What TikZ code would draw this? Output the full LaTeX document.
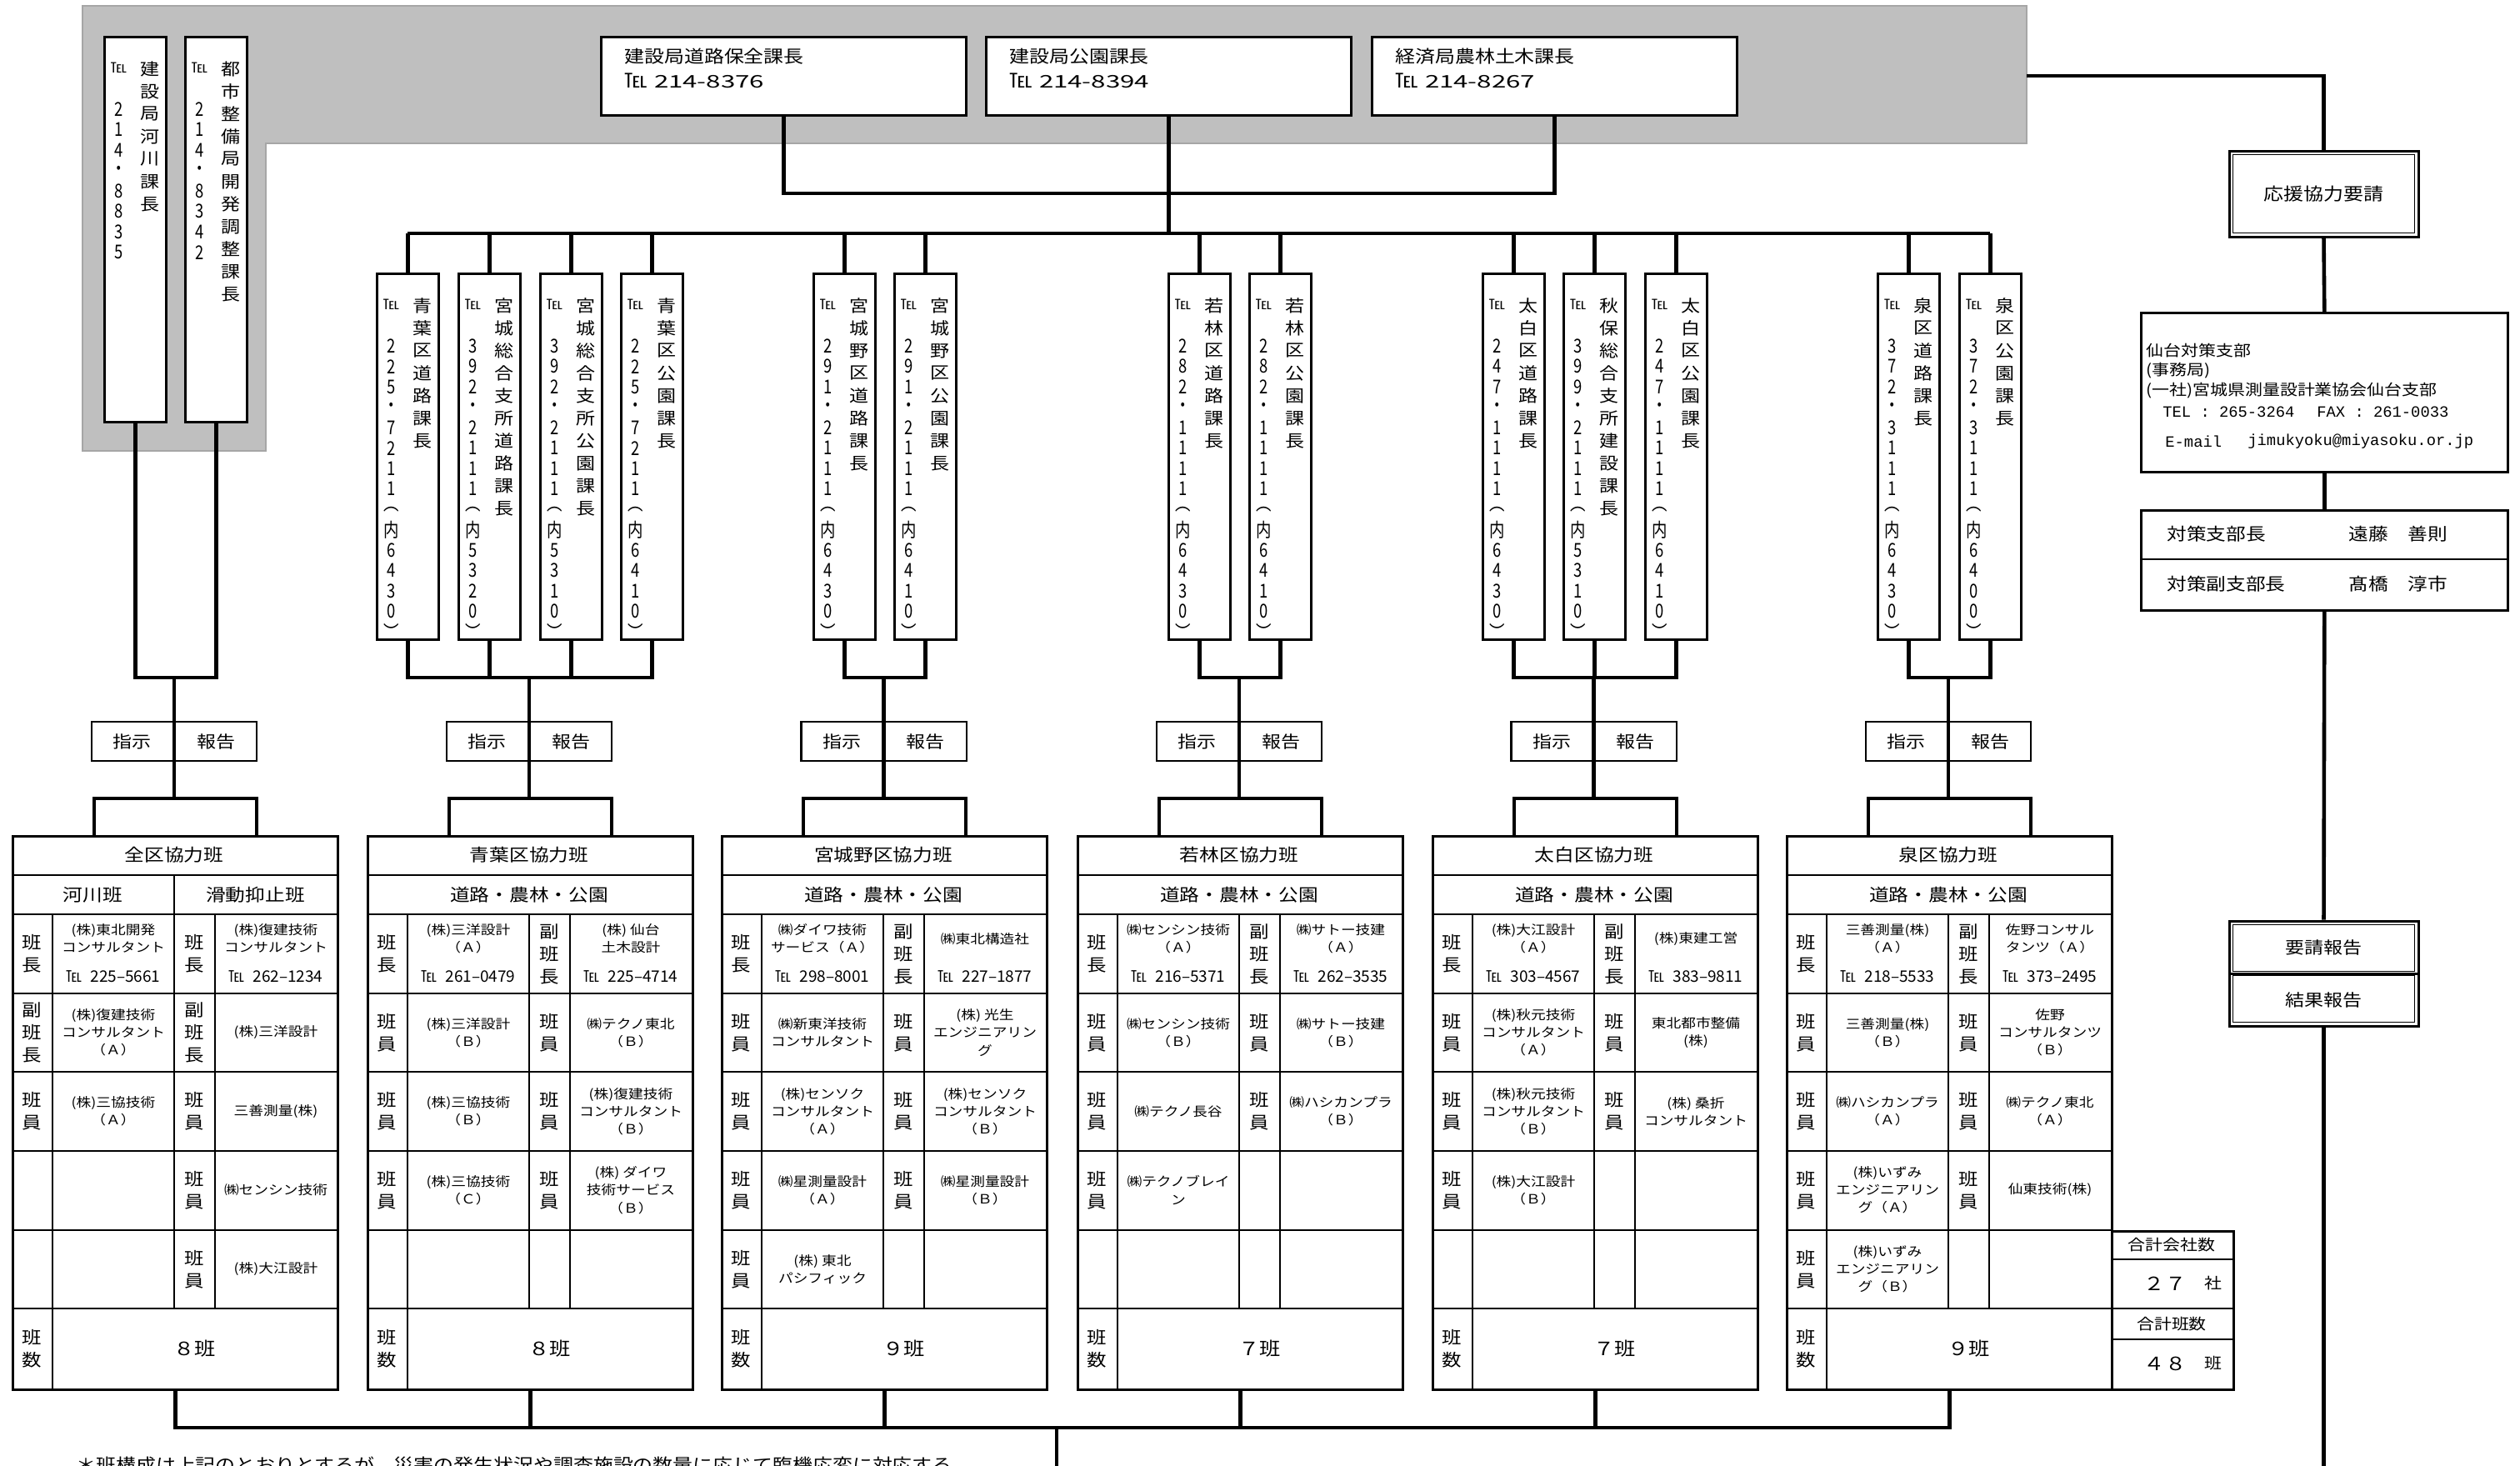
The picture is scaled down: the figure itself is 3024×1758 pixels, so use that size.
\documentclass[tikz,border=0pt]{standalone}
\usepackage{fontspec}
\setmainfont{Noto Sans CJK JP}[FakeStretch=1.15]
\newfontfamily\plainjp{Noto Sans CJK JP}
\newfontfamily\ndig{Noto Sans CJK JP}[FakeStretch=0.8]
\newfontfamily\wdig{Noto Sans CJK JP}[FakeStretch=1.5]
\newfontfamily\monof{Liberation Mono}
\usetikzlibrary{calc}

\ExplSyntaxOn
\dim_new:N \l_vs_pitch_dim
\NewDocumentCommand\vstack{mm}
  {
    \dim_set:Nn \l_vs_pitch_dim {#1}
    \vbox:n
      {
        \offinterlineskip
        \tl_map_inline:nn {#2}
          {
            \hbox_to_wd:nn {2em}
              { \hss \vbox_to_ht:nn {\l_vs_pitch_dim} { \vss \hbox:n {##1} \vss } \hss }
          }
      }
  }
\ExplSyntaxOff

\newcommand\fVname{\fontsize{10}{12}\selectfont}
\newcommand\fVtel{\fontsize{8.5}{10}\selectfont}
\newcommand\fVdig{\ndig\fontsize{11.5}{12}\selectfont}
\newcommand\fTop{\fontsize{10.4}{12}\selectfont}
\newcommand\fTopTel{\fontsize{12}{12}\selectfont}
\newcommand\fSH{\fontsize{10}{12}\selectfont}
\newcommand\fTitle{\fontsize{10.3}{12}\selectfont}
\newcommand\fLab{\fontsize{10.2}{13.5}\selectfont}
\newcommand\fCell{\fontsize{7.7}{10.6}\selectfont}
\newcommand\fTel{\plainjp\fontsize{9.5}{11}\selectfont}
\newcommand\fCnt{\fontsize{11}{12}\selectfont}
\newcommand\fInfo{\fontsize{9.1}{11}\selectfont}
\newcommand\fMono{\monof\fontsize{9.4}{11}\selectfont}
\newcommand\fTai{\fontsize{10.3}{12}\selectfont}
\newcommand\fFoot{\fontsize{10.4}{12}\selectfont}

% vertical box: name, left x, top y, height, name chars, tel digits
\newcommand\vbx[6]{%
  \node[vertbox,anchor=north west,minimum width=37pt,minimum height=#4] (#1) at (#2,#3) {};
  \node[txt,anchor=north,font=\fVname] (#1n) at ($(#1.north west)+(55.5,26)$) {\vstack{13.5pt}{#5}};
  \node[txt,font=\fVtel] (#1t) at ($(#1.north west)+(18.5,38.5)$) {℡};
  \node[txt,anchor=north,font=\fVdig] (#1d) at ($(#1.north west)+(18.5,75.5)$) {\vstack{12.25pt}{#6}};
}
% 指示/報告 box
\newcommand\sibx[2]{%
  \node[sibox,anchor=north east] (#1a) at (#2,865) {指示};
  \node[sibox,anchor=north west] (#1b) at (#2,865) {報告};
}
% table grid
\newcommand\tgrid[2]{%
  \node[tout] (#1) at (#2,1002) {};
  \foreach \yy in {1050,1097,1192,1286,1381,1476,1570} {\draw[tin] (#2,\yy) -- ++(390,0);}
  \draw[tin] ({#2+49},1097) -- ({#2+49},1666);
  \draw[tin] ({#2+195},1097) -- ({#2+195},1570);
  \draw[tin] ({#2+244},1097) -- ({#2+244},1570);
}
\newcommand\sitab[2]{%
  \draw[conn] (#1a.south east) -- (#1a.south east |- tbar);
  \draw[conn] ($(#2.north)+(-97.5,0)$) -- ($(#2.north)+(-97.5,-44)$) -- ($(#2.north)+(97.5,-44)$) -- ($(#2.north)+(97.5,0)$);
}
\newcounter{cc}
\newcommand\TT[2]{\stepcounter{cc}\node[titt] (c\arabic{cc}) at ({\tX+195},1026) {#1};
  \stepcounter{cc}\node[titt] (c\arabic{cc}) at ({\tX+195},1073.5) {#2};}
\newcommand\LA[2]{\stepcounter{cc}\node[labt] (c\arabic{cc}) at ({\tX+24.5},#1) {#2};}
\newcommand\LB[2]{\stepcounter{cc}\node[labt] (c\arabic{cc}) at ({\tX+219.5},#1) {#2};}
\newcommand\CA[2]{\stepcounter{cc}\node[cellt] (c\arabic{cc}) at ({\tX+122},#1) {#2};}
\newcommand\CB[2]{\stepcounter{cc}\node[cellt] (c\arabic{cc}) at ({\tX+317},#1) {#2};}
\newcommand\TA[1]{\stepcounter{cc}\node[telt] (c\arabic{cc}) at ({\tX+122},1172) {℡\hspace{5pt}#1};}
\newcommand\TB[1]{\stepcounter{cc}\node[telt] (c\arabic{cc}) at ({\tX+317},1172) {℡\hspace{5pt}#1};}
\newcommand\CN[1]{\stepcounter{cc}\node[cntt] (c\arabic{cc}) at ({\tX+219.5},1618) {#1};}

\begin{document}
\begin{tikzpicture}[x=0.5pt,y=-0.5pt,
  conn/.style={line width=2.3pt},
  vertbox/.style={draw,line width=1.4pt,fill=white,inner sep=0pt},
  topbox/.style={draw,line width=1.5pt,fill=white,inner sep=0pt,minimum width=219pt,minimum height=47pt,anchor=north west},
  sibox/.style={draw,line width=1.2pt,fill=white,inner sep=0pt,minimum width=49pt,minimum height=23.5pt,font=\fSH},
  tout/.style={draw,line width=1.5pt,inner sep=0pt,minimum width=195pt,minimum height=332pt,anchor=north west},
  tin/.style={line width=1.1pt},
  labt/.style={align=center,inner sep=0pt,font=\fLab},
  cellt/.style={align=center,inner sep=0pt,font=\fCell},
  telt/.style={inner sep=0pt,font=\fTel},
  cntt/.style={inner sep=0pt,font=\fCnt},
  titt/.style={inner sep=0pt,font=\fTitle},
  txt/.style={inner sep=0pt},
  dblo/.style={draw,line width=1.5pt,fill=white,inner sep=0pt,minimum width=113.5pt},
  dbli/.style={line width=0.9pt},
]
\useasboundingbox (0,0) rectangle (3024,1758);
\fill[white] (0,0) rectangle (3024,1758);

% gray area
\filldraw[fill=gray!50,draw=gray!70,line width=0.6pt] (99,7) -- (2432,7) -- (2432,172) -- (319,172) -- (319,541) -- (99,541) -- cycle;

% upper-left vertical boxes
\vbx{u1}{124}{43}{231pt}{建設局河川課長}{214・8835}
\vbx{u2}{221}{43}{231pt}{都市整備局開発調整課長}{214・8342}

% top horizontal boxes
\node[topbox] (kA) at (720,43) {};
\node[txt,anchor=west,font=\fTop] (kA1) at ($(kA.north west)+(29,25)$) {建設局道路保全課長};
\node[txt,anchor=west,font=\fTop] (kA2) at ($(kA.north west)+(29,54)$) {{\fTopTel ℡}\hspace{4pt}{\wdig 214-8376}};
\node[topbox] (kB) at (1182,43) {};
\node[txt,anchor=west,font=\fTop] (kB1) at ($(kB.north west)+(29,25)$) {建設局公園課長};
\node[txt,anchor=west,font=\fTop] (kB2) at ($(kB.north west)+(29,54)$) {{\fTopTel ℡}\hspace{4pt}{\wdig 214-8394}};
\node[topbox] (kC) at (1645,43) {};
\node[txt,anchor=west,font=\fTop] (kC1) at ($(kC.north west)+(29,25)$) {経済局農林土木課長};
\node[txt,anchor=west,font=\fTop] (kC2) at ($(kC.north west)+(29,54)$) {{\fTopTel ℡}\hspace{4pt}{\wdig 214-8267}};

% ward vertical boxes
\vbx{a1}{451}{327}{219.5pt}{青葉区道路課長}{225・7211︵内6430︶}
\vbx{a2}{549}{327}{219.5pt}{宮城総合支所道路課長}{392・2111︵内5320︶}
\vbx{a3}{647}{327}{219.5pt}{宮城総合支所公園課長}{392・2111︵内5310︶}
\vbx{a4}{744}{327}{219.5pt}{青葉区公園課長}{225・7211︵内6410︶}
\vbx{m1}{975}{327}{219.5pt}{宮城野区道路課長}{291・2111︵内6430︶}
\vbx{m2}{1072}{327}{219.5pt}{宮城野区公園課長}{291・2111︵内6410︶}
\vbx{w1}{1401}{327}{219.5pt}{若林区道路課長}{282・1111︵内6430︶}
\vbx{w2}{1498}{327}{219.5pt}{若林区公園課長}{282・1111︵内6410︶}
\vbx{h1}{1778}{327}{219.5pt}{太白区道路課長}{247・1111︵内6430︶}
\vbx{h2}{1875}{327}{219.5pt}{秋保総合支所建設課長}{399・2111︵内5310︶}
\vbx{h3}{1973}{327}{219.5pt}{太白区公園課長}{247・1111︵内6410︶}
\vbx{z1}{2252}{327}{219.5pt}{泉区道路課長}{372・3111︵内6430︶}
\vbx{z2}{2350}{327}{219.5pt}{泉区公園課長}{372・3111︵内6400︶}

% connectors upper part
\coordinate (ubar) at (0,232);
\coordinate (bus) at (0,280);
\coordinate (fork) at (0,813);
\coordinate (tbar) at (0,958);
\draw[conn] (kA.south) -- (kA.south |- ubar) -- (kC.south |- ubar) -- (kC.south);
\draw[conn] (kB.south) -- (kB.south |- bus);
\draw[conn] (a1.north |- bus) -- (z2.north |- bus);
\foreach \b in {a1,a2,a3,a4,m1,m2,w1,w2,h1,h2,h3,z1,z2} {\draw[conn] (\b.north) -- (\b.north |- bus);}

\draw[conn] (u1.south) -- (u1.south |- fork) -- (u2.south |- fork) -- (u2.south);
\draw[conn] (a1.south) -- (a1.south |- fork) -- (a4.south |- fork) -- (a4.south);
\draw[conn] (a2.south) -- (a2.south |- fork);
\draw[conn] (a3.south) -- (a3.south |- fork);
\draw[conn] (m1.south) -- (m1.south |- fork) -- (m2.south |- fork) -- (m2.south);
\draw[conn] (w1.south) -- (w1.south |- fork) -- (w2.south |- fork) -- (w2.south);
\draw[conn] (h1.south) -- (h1.south |- fork) -- (h3.south |- fork) -- (h3.south);
\draw[conn] (h2.south) -- (h2.south |- fork);
\draw[conn] (z1.south) -- (z1.south |- fork) -- (z2.south |- fork) -- (z2.south);

% 指示/報告
\sibx{s0}{209}
\sibx{s1}{635}
\sibx{s2}{1060.5}
\sibx{s3}{1487}
\sibx{s4}{1912.5}
\sibx{s5}{2338}
\foreach \s in {s0,s1,s2,s3,s4,s5} {\draw[conn] (\s a.north east) -- (\s a.north east |- fork);}

% tables
\tgrid{T0}{14}
\draw[tin] (209,1050) -- (209,1097);
\tgrid{T1}{440}
\tgrid{T2}{865}
\tgrid{T3}{1292}
\tgrid{T4}{1718}
\tgrid{T5}{2143}
\sitab{s0}{T0}
\sitab{s1}{T1}
\sitab{s2}{T2}
\sitab{s3}{T3}
\sitab{s4}{T4}
\sitab{s5}{T5}

% table 0
\def\tX{14}
\stepcounter{cc}\node[titt] (c\arabic{cc}) at ({\tX+195},1026) {全区協力班};
\stepcounter{cc}\node[titt] (c\arabic{cc}) at ({\tX+97.5},1073.5) {河川班};
\stepcounter{cc}\node[titt] (c\arabic{cc}) at ({\tX+292.5},1073.5) {滑動抑止班};
\LA{1144.5}{班\\長} \CA{1126}{(株)東北開発\\コンサルタント} \TA{225–5661}
\LB{1144.5}{班\\長} \CB{1126}{(株)復建技術\\コンサルタント} \TB{262–1234}
\LA{1239}{副\\班\\長} \CA{1239}{(株)復建技術\\コンサルタント\\（Ａ）}
\LB{1239}{副\\班\\長} \CB{1239}{(株)三洋設計}
\LA{1333.5}{班\\員} \CA{1333.5}{(株)三協技術\\（Ａ）}
\LB{1333.5}{班\\員} \CB{1333.5}{三善測量(株)}
\LB{1428}{班\\員} \CB{1428}{㈱センシン技術}
\LB{1523}{班\\員} \CB{1523}{(株)大江設計}
\LA{1618}{班\\数} \CN{８班}

% table 1
\def\tX{440}
\TT{青葉区協力班}{道路・農林・公園}
\LA{1144.5}{班\\長} \CA{1126}{(株)三洋設計\\（Ａ）} \TA{261–0479}
\LB{1144.5}{副\\班\\長} \CB{1126}{(株) 仙台\\土木設計} \TB{225–4714}
\LA{1239}{班\\員} \CA{1239}{(株)三洋設計\\（Ｂ）}
\LB{1239}{班\\員} \CB{1239}{㈱テクノ東北\\（Ｂ）}
\LA{1333.5}{班\\員} \CA{1333.5}{(株)三協技術\\（Ｂ）}
\LB{1333.5}{班\\員} \CB{1333.5}{(株)復建技術\\コンサルタント\\（Ｂ）}
\LA{1428}{班\\員} \CA{1428}{(株)三協技術\\（Ｃ）}
\LB{1428}{班\\員} \CB{1428}{(株) ダイワ\\技術サービス\\（Ｂ）}
\LA{1618}{班\\数} \CN{８班}

% table 2
\def\tX{865}
\TT{宮城野区協力班}{道路・農林・公園}
\LA{1144.5}{班\\長} \CA{1126}{㈱ダイワ技術\\サービス（Ａ）} \TA{298–8001}
\LB{1144.5}{副\\班\\長} \CB{1127}{㈱東北構造社} \TB{227–1877}
\LA{1239}{班\\員} \CA{1239}{㈱新東洋技術\\コンサルタント}
\LB{1239}{班\\員} \CB{1239}{(株) 光生\\エンジニアリン\\グ}
\LA{1333.5}{班\\員} \CA{1333.5}{(株)センソク\\コンサルタント\\（Ａ）}
\LB{1333.5}{班\\員} \CB{1333.5}{(株)センソク\\コンサルタント\\（Ｂ）}
\LA{1428}{班\\員} \CA{1428}{㈱星測量設計\\（Ａ）}
\LB{1428}{班\\員} \CB{1428}{㈱星測量設計\\（Ｂ）}
\LA{1523}{班\\員} \CA{1523}{(株) 東北\\パシフィック}
\LA{1618}{班\\数} \CN{９班}

% table 3
\def\tX{1292}
\TT{若林区協力班}{道路・農林・公園}
\LA{1144.5}{班\\長} \CA{1126}{㈱センシン技術\\（Ａ）} \TA{216–5371}
\LB{1144.5}{副\\班\\長} \CB{1126}{㈱サトー技建\\（Ａ）} \TB{262–3535}
\LA{1239}{班\\員} \CA{1239}{㈱センシン技術\\（Ｂ）}
\LB{1239}{班\\員} \CB{1239}{㈱サトー技建\\（Ｂ）}
\LA{1333.5}{班\\員} \CA{1333.5}{㈱テクノ長谷}
\LB{1333.5}{班\\員} \CB{1333.5}{㈱ハシカンプラ\\（Ｂ）}
\LA{1428}{班\\員} \CA{1428}{㈱テクノブレイ\\ン}
\LA{1618}{班\\数} \CN{７班}

% table 4
\def\tX{1718}
\TT{太白区協力班}{道路・農林・公園}
\LA{1144.5}{班\\長} \CA{1126}{(株)大江設計\\（Ａ）} \TA{303–4567}
\LB{1144.5}{副\\班\\長} \CB{1127}{(株)東建工営} \TB{383–9811}
\LA{1239}{班\\員} \CA{1239}{(株)秋元技術\\コンサルタント\\（Ａ）}
\LB{1239}{班\\員} \CB{1239}{東北都市整備\\(株)}
\LA{1333.5}{班\\員} \CA{1333.5}{(株)秋元技術\\コンサルタント\\（Ｂ）}
\LB{1333.5}{班\\員} \CB{1333.5}{(株) 桑折\\コンサルタント}
\LA{1428}{班\\員} \CA{1428}{(株)大江設計\\（Ｂ）}
\LA{1618}{班\\数} \CN{７班}

% table 5
\def\tX{2143}
\TT{泉区協力班}{道路・農林・公園}
\LA{1144.5}{班\\長} \CA{1126}{三善測量(株)\\（Ａ）} \TA{218–5533}
\LB{1144.5}{副\\班\\長} \CB{1126}{佐野コンサル\\タンツ（Ａ）} \TB{373–2495}
\LA{1239}{班\\員} \CA{1239}{三善測量(株)\\（Ｂ）}
\LB{1239}{班\\員} \CB{1239}{佐野\\コンサルタンツ\\（Ｂ）}
\LA{1333.5}{班\\員} \CA{1333.5}{㈱ハシカンプラ\\（Ａ）}
\LB{1333.5}{班\\員} \CB{1333.5}{㈱テクノ東北\\（Ａ）}
\LA{1428}{班\\員} \CA{1428}{(株)いずみ\\エンジニアリン\\グ（Ａ）}
\LB{1428}{班\\員} \CB{1428}{仙東技術(株)}
\LA{1523}{班\\員} \CA{1523}{(株)いずみ\\エンジニアリン\\グ（Ｂ）}
\LA{1618}{班\\数} \CN{９班}

% totals
\node[draw,line width=1.5pt,inner sep=0pt,anchor=north west,minimum width=73pt,minimum height=95pt] (tot) at (2533,1476) {};
\draw[tin] (2533,1511) -- (2679,1511);
\draw[tin] (2533,1570) -- (2679,1570);
\draw[tin] (2533,1607) -- (2679,1607);
\node[txt,font=\fInfo] (tot1) at (2606,1493.5) {合計会社数};
\node[txt,font=\fCnt] (tot2) at (2598,1540) {２７};
\node[txt,font=\fInfo] (tot3) at (2656,1540) {社};
\node[txt,font=\fInfo] (tot4) at (2606,1588.5) {合計班数};
\node[txt,font=\fCnt] (tot5) at (2598,1636) {４８};
\node[txt,font=\fInfo] (tot6) at (2656,1636) {班};

% bottom bus
\coordinate (bbus) at (0,1713);
\draw[conn] (T0.south) -- (T0.south |- bbus) -- (T5.south |- bbus) -- (T5.south);
\foreach \t in {T1,T2,T3,T4} {\draw[conn] (\t.south) -- (\t.south |- bbus);}
\coordinate (bmid) at (1268,1713);
\coordinate (bend) at (1268,1775);
\draw[conn] (bmid) -- (bend);
\node[txt,anchor=north west,font=\fFoot] (foot) at (91,1747) {＊班構成は上記のとおりとするが、災害の発生状況や調査施設の数量に応じて臨機応変に対応する};

% right side
\node[dblo,minimum height=51.5pt] (ouen) at (2788.5,232.5) {};
\draw[dbli] ($(ouen.north west)+(6,6)$) rectangle ($(ouen.south east)+(-6,-6)$);
\node[txt,font=\fTop] (ouent) at (ouen.center) {応援協力要請};

\node[draw,line width=1.3pt,fill=white,inner sep=0pt,anchor=north west,minimum width=220pt,minimum height=95.5pt] (info) at (2568,374) {};
\node[txt,anchor=west,font=\fInfo] (i1) at (2575,421) {仙台対策支部};
\node[txt,anchor=west,font=\fInfo] (i2) at (2575,445) {(事務局)};
\node[txt,anchor=west,font=\fInfo] (i3) at (2575,469) {(一社)宮城県測量設計業協会仙台支部};
\node[txt,anchor=west,font=\fMono] (i4) at (2595,494) {TEL : 265-3264};
\node[txt,anchor=west,font=\fMono] (i5) at (2780,494) {FAX : 261-0033};
\node[txt,anchor=west,font=\fMono] (i6) at (2598,530) {E-mail};
\node[txt,anchor=west,font=\fMono] (i7) at (2697,530) {jimukyoku@miyasoku.or.jp};

\node[draw,line width=1.3pt,fill=white,inner sep=0pt,anchor=north west,minimum width=220pt,minimum height=60pt] (taisaku) at (2568,611) {};
\draw[tin] (2568,671) -- (3008,671);
\node[txt,anchor=west,font=\fTai] (ta1) at (2600,641) {対策支部長};
\node[txt,anchor=west,font=\fTai] (ta2) at (2818,641) {遠藤　善則};
\node[txt,anchor=west,font=\fTai] (ta3) at (2600,701) {対策副支部長};
\node[txt,anchor=west,font=\fTai] (ta4) at (2818,701) {髙橋　淳市};

\node[dblo,minimum height=31.5pt] (yosei) at (2788.5,1136.5) {};
\draw[dbli] ($(yosei.north west)+(6,6)$) rectangle ($(yosei.south east)+(-6,-4)$);
\node[txt,font=\fSH] (yoseit) at (yosei.center) {要請報告};
\node[dblo,minimum height=31.5pt] (kekka) at (2788.5,1199.5) {};
\draw[dbli] ($(kekka.north west)+(6,4)$) rectangle ($(kekka.south east)+(-6,-6)$);
\node[txt,font=\fSH] (kekkat) at (kekka.center) {結果報告};

\coordinate (grayR) at (2432,91);
\coordinate (rbot) at (2788.5,1775);
\draw[conn] (grayR) -| (ouen.north);
\draw[conn] (ouen.south) -- (info.north);
\draw[conn] (info.south) -- (taisaku.north);
\draw[conn] (taisaku.south) -- (yosei.north);
\draw[conn] (kekka.south) -- (rbot);
\end{tikzpicture}
\end{document}
